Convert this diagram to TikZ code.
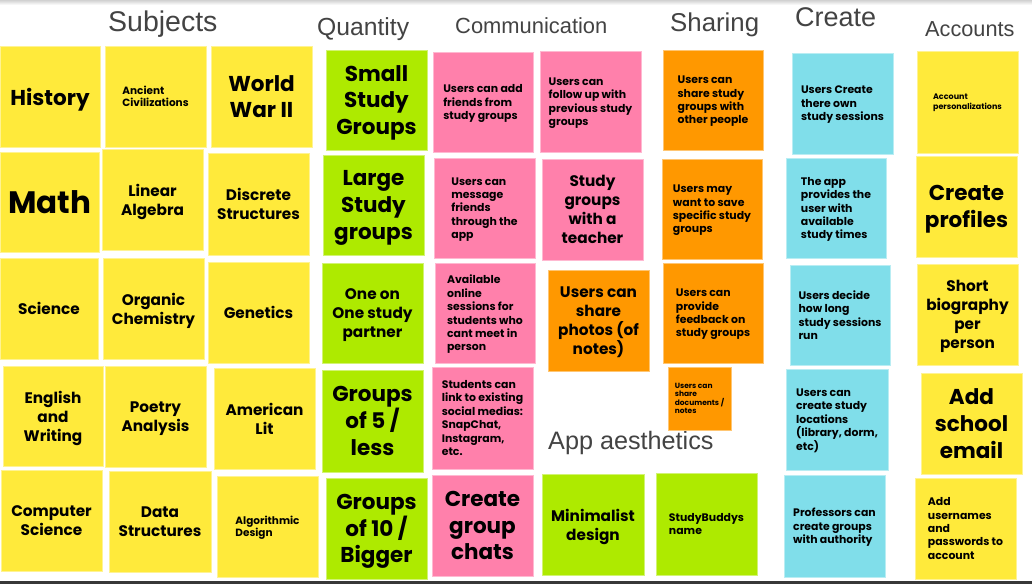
\documentclass[tikz,border=0pt]{standalone}
\usepackage{fontspec}
\setmainfont{Poppins}
\newfontfamily\hdr{Liberation Sans}
\definecolor{yel}{RGB}{255,234,59}
\definecolor{grn}{RGB}{174,234,0}
\definecolor{pnk}{RGB}{255,128,171}
\definecolor{org}{RGB}{255,152,0}
\definecolor{cyn}{RGB}{128,222,234}
\definecolor{hdrc}{RGB}{67,67,67}
\newcommand\stk[7]{\node[#6, minimum width={#4-#2}, minimum height={#5-#3}] (#1) at ({(#2+#4)/2},{(#3+#5)/2}) {#7};}
\tikzset{
  note/.style={rectangle, inner sep=1pt, line width=0.8pt, text depth=0pt, font=\bfseries, text=black},
  Y/.style={note, fill=yel, draw=yel!55!white},
  G/.style={note, fill=grn, draw=grn!55!white},
  P/.style={note, fill=pnk, draw=pnk!55!white},
  O/.style={note, fill=org, draw=org!55!white},
  C/.style={note, fill=cyn, draw=cyn!55!white},
  big/.style={align=center, font=\bfseries\fontsize{21.5}{26.7}\selectfont},
  mid/.style={align=center, font=\bfseries\fontsize{15.3}{19}\selectfont},
  sml/.style={align=left, font=\bfseries\fontsize{10.9}{13.4}\selectfont},
  tny/.style={align=left, font=\bfseries\fontsize{7.5}{8.3}\selectfont},
  head/.style={anchor=base west, inner sep=0pt, text=hdrc}
}
\begin{document}
\begin{tikzpicture}[x=1pt,y=-1pt]
\useasboundingbox (0,0) rectangle (1032,584);
\fill[white] (0,0) rectangle (1032,584);
\shade[top color=black!18, bottom color=white] (0,0) rectangle (1032,5);
\fill[black!78] (0,581) rectangle (1032,584);
% headers
\node[head, font=\hdr\fontsize{28.5}{30}\selectfont] (hsub) at (108,31.5) {Subjects};
\node[head, font=\hdr\fontsize{24.7}{26}\selectfont] (hqty) at (317,35.7) {Quantity};
\node[head, font=\hdr\fontsize{21.9}{23}\selectfont] (hcom) at (455,33.3) {Communication};
\node[head, font=\hdr\fontsize{25.8}{27}\selectfont] (hsha) at (670,31) {Sharing};
\node[head, font=\hdr\fontsize{27}{28}\selectfont] (hcre) at (795,26) {Create};
\node[head, font=\hdr\fontsize{21.7}{23}\selectfont] (hacc) at (925,36.7) {Accounts};
\node[head, font=\hdr\fontsize{25.2}{26}\selectfont] (happ) at (548,449.3) {App aesthetics};
% subjects
\stk{history}{0}{46}{100}{147}{Y,big}{History}
\stk{ancient}{105}{46}{206}{147}{Y,sml,font=\bfseries\fontsize{10.5}{12.3}\selectfont}{Ancient\\Civilizations}
\stk{wwii}{211}{46}{312}{147}{Y,big}{World\\War II}
\stk{math}{0}{152}{99}{252}{Y,big,font=\bfseries\fontsize{31}{34}\selectfont}{Math}
\stk{linalg}{102}{149}{203}{250}{Y,mid}{Linear\\Algebra}
\stk{discrete}{208}{153}{309}{255}{Y,mid}{Discrete\\Structures}
\stk{science}{0}{258}{98}{359}{Y,mid}{Science}
\stk{organic}{103}{258}{204}{359}{Y,mid}{Organic\\Chemistry}
\stk{genetics}{208}{262}{309}{363}{Y,mid}{Genetics}
\stk{english}{3}{366}{103}{466}{Y,mid}{English\\and\\Writing}
\stk{poetry}{105}{366}{206}{467}{Y,mid}{Poetry\\Analysis}
\stk{amlit}{214}{368}{315}{469}{Y,mid}{American\\Lit}
\stk{compsci}{1}{470}{102}{571}{Y,mid}{Computer\\Science}
\stk{datastr}{109}{471}{211}{572}{Y,mid}{Data\\Structures}
\stk{algo}{217}{476}{318}{577}{Y,sml,font=\bfseries\fontsize{10.5}{12.3}\selectfont}{Algorithmic\\Design}
% quantity
\stk{small}{326}{50}{427}{150}{G,big}{Small\\Study\\Groups}
\stk{large}{323}{155}{424}{255}{G,big}{Large\\Study\\groups}
\stk{oneonone}{322}{263}{423}{363}{G,mid}{One on\\One study\\partner}
\stk{gfive}{322}{370}{423}{472}{G,big}{Groups\\of 5 /\\less}
\stk{gten}{326}{478}{427}{579}{G,big}{Groups\\of 10 /\\Bigger}
% communication
\stk{addfriends}{433}{52}{533}{152}{P,sml}{Users can add\\friends from\\study groups}
\stk{message}{434}{158}{535}{258}{P,sml}{Users can\\message\\friends\\through the\\app}
\stk{online}{435}{263}{535}{363}{P,sml}{Available\\online\\sessions for\\students who\\cant meet in\\person}
\stk{link}{432}{367}{533}{469}{P,sml}{Students can\\link to existing\\social medias:\\SnapChat,\\Instagram,\\etc.}
\stk{chats}{432}{475}{533}{576}{P,big}{Create\\group\\chats}
\stk{followup}{540}{51}{641}{152}{P,sml}{Users can\\follow up with\\previous study\\groups}
\stk{teacher}{542}{159}{643}{260}{P,mid}{Study\\groups\\with a\\teacher}
% sharing
\stk{photos}{548}{270}{649}{371}{O,mid}{Users can\\share\\photos (of\\notes)}
\stk{sharegroups}{663}{50}{763}{150}{O,sml}{Users can\\share study\\groups with\\other people}
\stk{save}{662}{159}{762}{259}{O,sml}{Users may\\want to save\\specific study\\groups}
\stk{feedback}{663}{263}{763}{363}{O,sml}{Users can\\provide\\feedback on\\study groups}
\stk{docs}{668}{367}{731}{430}{O,tny}{Users can\\share\\documents /\\notes}
% app aesthetics
\stk{minimal}{542}{474}{644}{575}{G,mid}{Minimalist\\design}
\stk{studybuddys}{656}{473}{757}{575}{G,sml}{StudyBuddys\\name}
% create
\stk{ucreate}{792}{53}{893}{154}{C,sml}{Users Create\\there own\\study sessions}
\stk{appprov}{786}{158}{886}{258}{C,sml}{The app\\provides the\\user with\\available\\study times}
\stk{decide}{790}{265}{890}{365}{C,sml}{Users decide\\how long\\study sessions\\run}
\stk{locations}{786}{369}{888}{470}{C,sml}{Users can\\create study\\locations\\(library, dorm,\\etc)}
\stk{professors}{784}{475}{885}{577}{C,sml}{Professors can\\create groups\\with authority}
% accounts
\stk{personal}{917}{51}{1018}{153}{Y,tny,font=\bfseries\fontsize{8}{9.7}\selectfont}{Account\\personalizations}
\stk{profiles}{916}{156}{1017}{257}{Y,big}{Create\\profiles}
\stk{bio}{917}{264}{1018}{365}{Y,mid}{Short\\biography\\per\\person}
\stk{email}{921}{373}{1022}{474}{Y,big}{Add\\school\\email}
\stk{usernames}{915}{478}{1016}{579}{Y,sml}{Add\\usernames\\and\\passwords to\\account}
\end{tikzpicture}
\end{document}
